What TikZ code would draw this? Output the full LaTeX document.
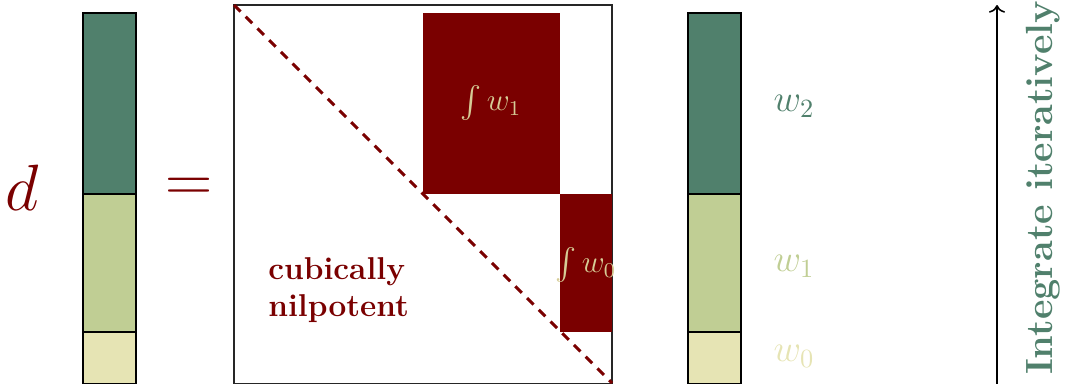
\documentclass[tikz,border=0pt]{standalone}
\usepackage{amsmath}
\usepackage{amssymb}
\usepackage{tikz}
\usetikzlibrary{arrows.meta, positioning, calc}
\definecolor{hijauTua}{RGB}{80,128,108}
\definecolor{hijauMuda}{RGB}{192,206,148}
\definecolor{krem}{RGB}{230,228,180}
\definecolor{merahTua}{RGB}{122,0,0}
\definecolor{kremTeks}{RGB}{214,204,150}

\begin{document}
\begin{tikzpicture}[
  x=0.38pt, y=-0.38pt,
  batang/.style={draw=black, line width=1pt},
  blok/.style={fill=merahTua},
  teksBlok/.style={text=kremTeks, font=\large},
  labelW/.style={font=\Large},
  panah/.style={->, semithick}
]
  \useasboundingbox (0,0) rectangle (1065,383);

  % vektor d di kiri
  \node[text=merahTua, font=\fontsize{25}{30}\selectfont] (d) at (22,188) {$d$};
  \draw[batang, fill=hijauTua] (83,13) rectangle (136,194);
  \draw[batang, fill=hijauMuda] (83,194) rectangle (136,332);
  \draw[batang, fill=krem] (83,332) rectangle (136,384);
  \node[text=merahTua, font=\fontsize{25}{30}\selectfont] (sama) at (189,190) {$=$};

  % matriks
  \draw[line width=1pt, draw=black!85, fill=white] (234,5) rectangle (612,384);
  \fill[blok] (423,13) rectangle (560,194);
  \fill[blok] (560,194) rectangle (612,332);
  \node[teksBlok] (int1) at (491,103) {$\int w_1$};
  \node[teksBlok] (int0) at (586,265) {$\int w_0$};
  \coordinate (kiriAtas) at (234,5);
  \coordinate (kananBawah) at (612,383);
  \draw[merahTua, line width=1.2pt, dash pattern=on 3.5pt off 2.8pt] (kiriAtas) -- (kananBawah);
  \node[text=merahTua, font=\large\bfseries, align=left, anchor=west]
    (nil) at (259,290) {cubically\\nilpotent};

  % vektor w di kanan
  \draw[batang, fill=hijauTua] (688,13) rectangle (741,194);
  \draw[batang, fill=hijauMuda] (688,194) rectangle (741,332);
  \draw[batang, fill=krem] (688,332) rectangle (741,384);
  \node[labelW, text=hijauTua] (w2) at (794,106) {$w_2$};
  \node[labelW, text=hijauMuda] (w1) at (794,266) {$w_1$};
  \node[labelW, text=krem] (w0) at (794,356) {$w_0$};

  % panah integrasi
  \coordinate (bawah) at (997,384);
  \coordinate (atas) at (997,5);
  \draw[panah] (bawah) -- (atas);
  \node[rotate=90, text=hijauTua, font=\Large\bfseries] (ket) at (1043,188)
    {Integrate iteratively};
\end{tikzpicture}
\end{document}
